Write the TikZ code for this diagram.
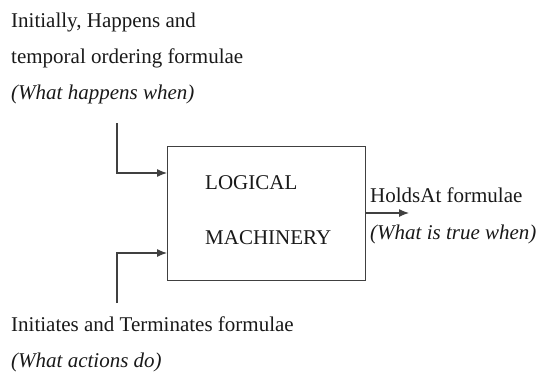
\documentclass[tikz,border=0pt]{standalone}
\usepackage{fontspec}
\setmainfont{Liberation Serif}
\usetikzlibrary{arrows.meta}

\begin{document}
\begin{tikzpicture}[x=1pt,y=-1pt,font=\fontsize{21}{24}\selectfont,
    lbl/.style={anchor=base west,inner sep=0pt,text=black!90},
    feed/.style={draw=black!75,line width=1.2pt,-{Latex[length=10pt,width=8pt]}}]
  \useasboundingbox (0,0) rectangle (539,376);
    \node[draw=black!75,line width=1.2pt,minimum width=198pt,minimum height=134pt,anchor=north west] (machine) at (167,146) {};
    \node[lbl] (in1a) at (11,27) {Initially, Happens and};
    \node[lbl] (in1b) at (11,63) {temporal ordering formulae};
    \node[lbl] (in1c) at (11,99) {\itshape (What happens when)};
    \node[lbl] (lg) at (205,189) {LOGICAL};
    \node[lbl] (mc) at (205,244) {MACHINERY};
    \node[lbl] (out1) at (370,202) {HoldsAt formulae};
    \node[lbl] (out2) at (370,239) {\itshape (What is true when)};
    \node[lbl] (in2a) at (11,331) {Initiates and Terminates formulae};
    \node[lbl] (in2b) at (11,367) {\itshape (What actions do)};
    \coordinate (top) at (117,123);
    \coordinate (bot) at (117,303);
    \coordinate (end) at (409,213);
    \draw[feed] (top) |- (machine.west |- 0,173); % what happens when
    \draw[feed] (bot) |- (machine.west |- 0,253); % what actions do
    \draw[feed] (machine.east |- end) -- (end); % holds at
\end{tikzpicture}
\end{document}
